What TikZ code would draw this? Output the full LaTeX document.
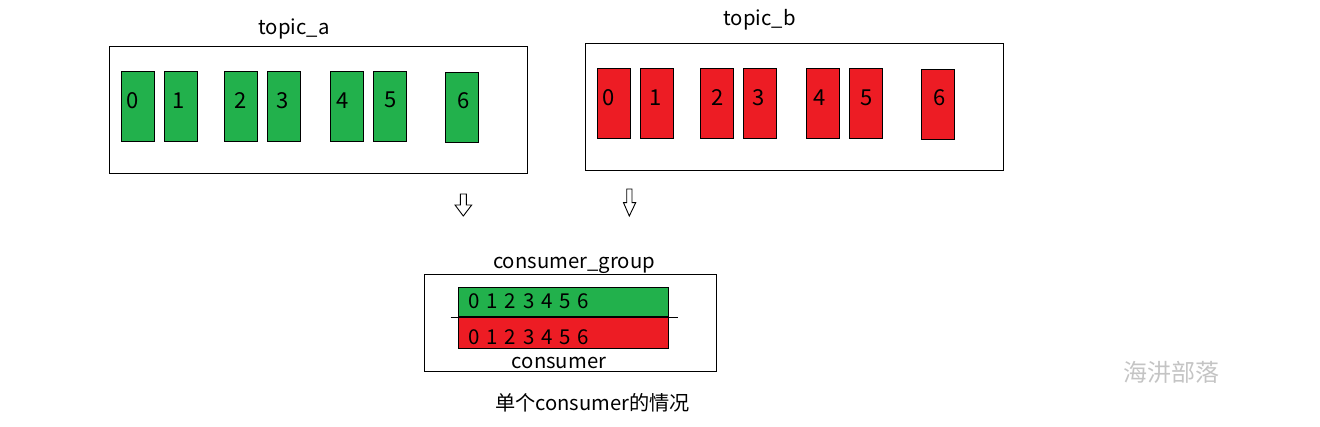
\documentclass[tikz,border=0pt]{standalone}
\usepackage{fontspec}
\setmainfont{Noto Sans CJK SC}
\usetikzlibrary{calc}
\definecolor{pgreen}{HTML}{22B14C}
\definecolor{pred}{HTML}{ED1C24}
\definecolor{wmgray}{HTML}{C4C4C4}
\tikzset{
  part/.style={draw=black, line width=1pt, minimum width=33pt, minimum height=70pt, inner sep=0pt},
  gpart/.style={part, fill=pgreen},
  rpart/.style={part, fill=pred},
  num/.style={font=\fontsize{22}{26}\selectfont, inner sep=0pt},
  framebox/.style={draw=black, line width=1pt, inner sep=0pt},
  lbl/.style={font=\fontsize{20.3}{24}\selectfont, inner sep=0pt, anchor=base},
  bar/.style={draw=black, line width=1pt, minimum width=210pt, inner sep=0pt},
  blockarrow/.style={draw=black, line width=0.9pt, fill=white, line join=miter},
}
\newcommand{\digrow}{\makebox[18.2pt]{0}\makebox[18.2pt]{1}\makebox[18.2pt]{2}\makebox[18.2pt]{3}\makebox[18.2pt]{4}\makebox[18.2pt]{5}\makebox[18.2pt]{6}}
\begin{document}
\begin{tikzpicture}[x=1pt,y=-1pt]
\useasboundingbox (0,0) rectangle (1320,427);
% topic_a
\node[framebox, minimum width=418pt, minimum height=127pt] (ta) at (318.3,109.8) {};
\node[lbl] (talbl) at (294,35) {topic\_a};
\foreach \d/\x/\tx in {0/137.8/132.8, 1/180.8/179, 2/240.8/241, 3/283.8/283, 4/347/342.5, 5/390/390.8} {
  \node[gpart] (a\d) at (\x,106.3) {};
  \node[num] (at\d) at (\tx,100.3) {\d};
}
\node[gpart] (a6) at (462,107.3) {};
\node[num] (at6) at (463.3,100.3) {6};
% topic_b
\node[framebox, minimum width=418pt, minimum height=126.7pt] (tb) at (794.3,106.7) {};
\node[lbl] (tblbl) at (759.5,25.3) {topic\_b};
\foreach \d/\x/\tx in {0/613.8/608.8, 1/656.8/656, 2/716.8/717.2, 3/759.8/759, 4/822.8/819.5, 5/865.8/867} {
  \node[rpart] (b\d) at (\x,103.3) {};
  \node[num] (bt\d) at (\tx,97.5) {\d};
}
\node[rpart] (b6) at (937.8,104.3) {};
\node[num] (bt6) at (939.5,97.5) {6};
% down arrows
\draw[blockarrow] (460.3,194) -- (466.3,194) -- (466.3,205) -- (471.7,205) -- (463.3,216) -- (455,205) -- (460.3,205) -- cycle;
\draw[blockarrow] (626.7,189) -- (632,189) -- (632,202.7) -- (635.7,202.7) -- (629.3,216) -- (623.5,202.7) -- (626.7,202.7) -- cycle;
% consumer
\node[framebox, minimum width=292.4pt, minimum height=97.4pt] (cons) at (570.5,323) {};
\node[lbl] (cglbl) at (574,268.3) {consumer\_group};
\node[bar, fill=pgreen, minimum height=29.4pt] (gbar) at (563.7,302) {};
\node[bar, fill=pred, minimum height=31.6pt] (rbar) at (563.7,332.5) {};
\draw[line width=1pt] ($(gbar.south west)+(-7.7,0)$) coordinate (l1) -- ($(gbar.south east)+(8.3,0)$) coordinate (l2);
\node[num, font=\fontsize{20.5}{24}\selectfont] (gdig) at (528.7,301.3) {\digrow};
\node[num, font=\fontsize{20.5}{24}\selectfont] (rdig) at (528.7,336.7) {\digrow};
\node[lbl] (clbl) at (559,368.3) {consumer};
% caption and watermark
\node[lbl, font=\fontsize{20.2}{24}\selectfont] (cap) at (592.5,410) {单个consumer的情况};
\node[inner sep=0pt, text=wmgray, font=\fontsize{24}{28}\selectfont] (wm) at (1171,372) {海汫部落};
\end{tikzpicture}
\end{document}
